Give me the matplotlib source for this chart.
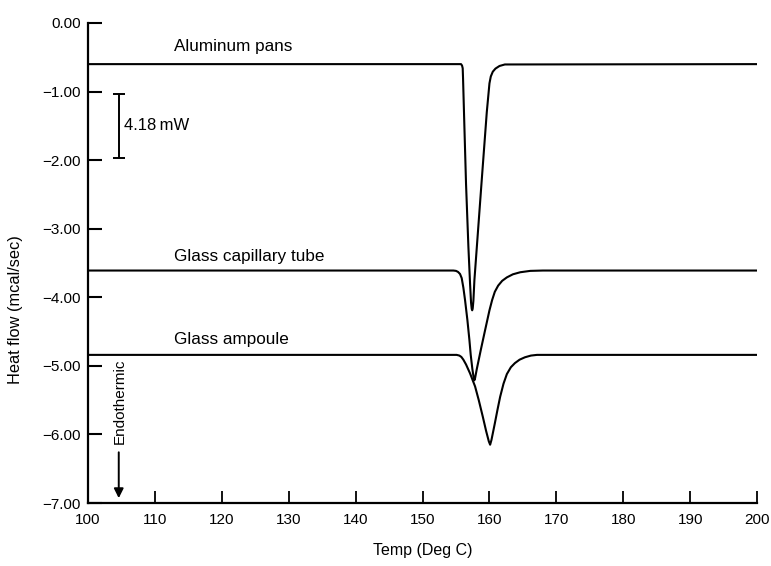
import matplotlib
matplotlib.use("Agg")
import matplotlib.pyplot as plt

plt.rcParams['font.family'] = ['Liberation Sans', 'DejaVu Sans']

# ---- data ----
al_temp = [100, 155.75, 155.9, 156.0, 156.05, 156.25, 156.5, 156.85, 157.1, 157.25,
           157.35, 157.42, 157.5, 157.6, 157.75, 158.8, 159.6, 160.0, 160.2, 160.5,
           160.9, 161.5, 162.3, 200]
al_flow = [-0.60, -0.60, -0.62, -0.66, -0.80, -1.50, -2.35, -3.26, -3.80, -4.08,
           -4.17, -4.19, -4.16, -4.05, -3.75, -2.35, -1.30, -0.88, -0.78, -0.71,
           -0.665, -0.627, -0.605, -0.60]

cap_temp = [100, 154.6, 155.0, 155.3, 155.6, 155.85, 156.1, 156.35, 156.7, 157.0,
            157.2, 157.45, 157.65, 157.75, 157.85, 158.1, 158.7, 159.3, 160.0, 160.4,
            160.8, 161.3, 161.9, 162.6, 163.5, 164.6, 166.1, 168.0, 200]
cap_flow = [-3.61, -3.61, -3.615, -3.63, -3.66, -3.72, -3.86, -4.04, -4.33, -4.62,
            -4.84, -5.05, -5.18, -5.21, -5.18, -5.05, -4.77, -4.50, -4.19, -4.04,
            -3.92, -3.83, -3.76, -3.71, -3.665, -3.635, -3.615, -3.61, -3.61]

amp_temp = [100, 155.1, 155.5, 155.8, 156.1, 156.5, 157.1, 157.85, 158.4, 159.0,
            159.5, 159.9, 160.1, 160.3, 160.8, 161.2, 161.6, 162.1, 162.6, 163.2,
            163.8, 164.5, 165.3, 166.2, 167.1, 200]
amp_flow = [-4.84, -4.84, -4.85, -4.87, -4.91, -4.98, -5.11, -5.30, -5.50, -5.74,
            -5.95, -6.10, -6.15, -6.08, -5.84, -5.64, -5.45, -5.26, -5.12, -5.02,
            -4.96, -4.91, -4.875, -4.85, -4.84, -4.84]

x_ticks = [100, 110, 120, 130, 140, 150, 160, 170, 180, 190, 200]
y_ticks = [0, -1, -2, -3, -4, -5, -6, -7]
y_tick_labels = ['0.00', '\u22121.00', '\u22122.00', '\u22123.00', '\u22124.00',
                 '\u22125.00', '\u22126.00', '\u22127.00']

series_labels = ['Aluminum pans', 'Glass capillary tube', 'Glass ampoule']

fig = plt.figure(figsize=(7.71, 5.66), dpi=100)
ax = fig.add_axes([0.1141, 0.1113, 0.8679, 0.8481])

lw = 1.5
for t, f in [(al_temp, al_flow), (cap_temp, cap_flow), (amp_temp, amp_flow)]:
    ax.plot(t, f, color='black', lw=lw, solid_joinstyle='round',
            solid_capstyle='round', zorder=2)

ax.set_xlim(100, 200)
ax.set_ylim(-7, 0)
ax.set_xticks(x_ticks)
ax.set_yticks(y_ticks)
ax.set_yticklabels(y_tick_labels)

for s in ['top', 'right']:
    ax.spines[s].set_visible(False)
for s in ['left', 'bottom']:
    ax.spines[s].set_linewidth(1.6)

ax.tick_params(axis='y', direction='in', length=10, width=1.5, pad=5, labelsize=11)
ax.tick_params(axis='x', direction='in', length=9, width=1.3, pad=7, labelsize=11)

ax.set_xlabel('Temp (Deg C)', fontsize=11.5, labelpad=12)
fig.text(16 / 771, 1 - 310 / 566, 'Heat flow (mcal/sec)', rotation=90,
         ha='center', va='center', fontsize=11.8)

# curve labels
label_y = [-0.35, -3.40, -4.62]
for txt, yv in zip(series_labels, label_y):
    ax.text(112.9, yv, txt, fontsize=12.3, ha='left', va='center')

# scale bar
ax.errorbar([104.6], [-1.5], yerr=[[0.47], [0.47]], fmt='none', ecolor='black',
            elinewidth=1.4, capsize=4, capthick=1.4)
ax.text(105.4, -1.49, '4.18\u2009mW', fontsize=12, ha='left', va='center')

# endothermic label and arrow
ax.text(104.75, -5.52, 'Endothermic', rotation=90, fontsize=11, ha='center', va='center',
        bbox=dict(facecolor='white', edgecolor='none', pad=1.5), zorder=3)
ax.annotate('', xy=(104.6, -6.97), xytext=(104.6, -6.22),
            arrowprops=dict(arrowstyle='-|>', color='black', lw=1.4, mutation_scale=14))

fig.savefig('out.png', dpi=100)
